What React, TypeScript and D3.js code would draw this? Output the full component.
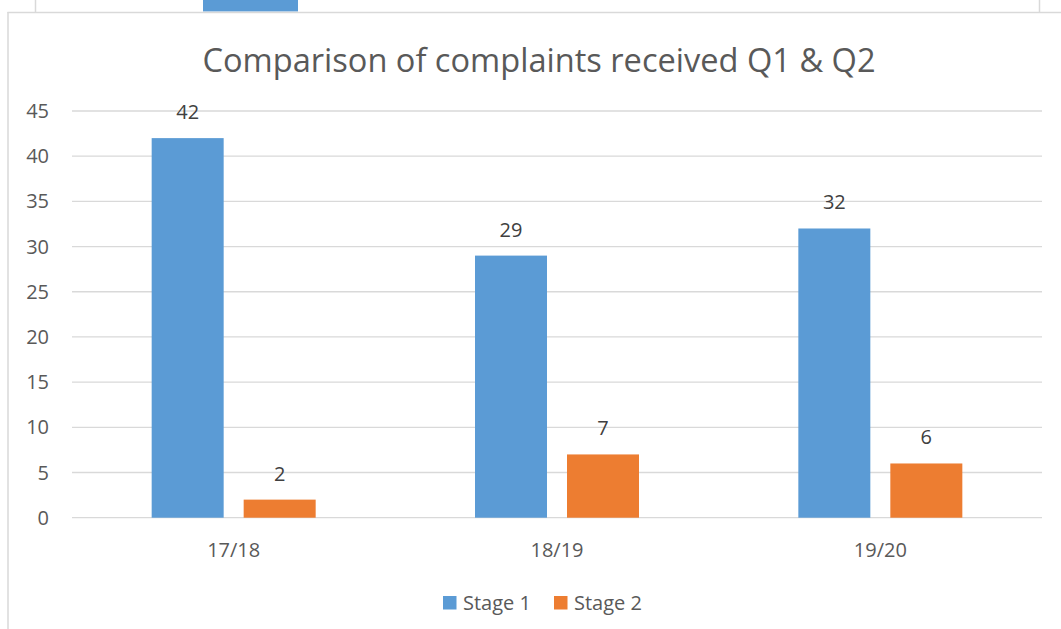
import React from "react";
import * as d3 from "d3";

const categories = ["17/18", "18/19", "19/20"];
const seriesNames = ["Stage 1", "Stage 2"];
const stage1 = [42, 29, 32];
const stage2 = [2, 7, 6];
const yTicks = [0, 5, 10, 15, 20, 25, 30, 35, 40, 45];
const title = "Comparison of complaints received Q1 & Q2";

const W = 1061;
const H = 629;
const colors = ["#5B9BD5", "#ED7D31"];
const FONT = "'Open Sans', 'Noto Sans', sans-serif";

export default function App() {
  const plotLeft = 72;
  const plotRight = 1042;
  const y = d3.scaleLinear().domain([0, 45]).range([517.7, 111]);
  const x0 = d3.scaleBand<string>().domain(categories).range([plotLeft, plotRight]).paddingInner(0).paddingOuter(0);
  const bw = 72;
  const gap = 20;
  const series = [stage1, stage2];

  return (
    <svg
      width={W}
      height={H}
      style={{ position: "absolute", left: 0, top: 0, background: "#fff" }}
      fontFamily={FONT}
    >
      {/* surrounding frame fragments */}
      <line x1={35.5} x2={35.5} y1={0} y2={12} stroke="#D9D9D9" strokeWidth={1.5} />
      <line x1={1039.5} x2={1039.5} y1={0} y2={12} stroke="#D9D9D9" strokeWidth={1.5} />
      <rect x={203} y={0} width={95} height={11.5} fill="#5B9BD5" />
      <line x1={7.5} x2={W} y1={12.5} y2={12.5} stroke="#D9D9D9" strokeWidth={1.5} />
      <line x1={8} x2={8} y1={12} y2={H} stroke="#D9D9D9" strokeWidth={1.5} />

      <text x={539} y={71.5} textAnchor="middle" fontSize={32.6} fill="#595959">
        {title}
      </text>

      {yTicks.map((t) => (
        <g key={t}>
          <line x1={plotLeft} x2={plotRight} y1={y(t)} y2={y(t)} stroke="#D9D9D9" strokeWidth={1.3} />
          <text x={49} y={y(t)} dy="0.35em" textAnchor="end" fontSize={20} fill="#595959">
            {t}
          </text>
        </g>
      ))}

      {categories.map((c, i) => {
        const cx = (x0(c) as number) + x0.bandwidth() / 2;
        return (
          <g key={c}>
            {series.map((s, j) => {
              const bx = cx - gap / 2 - bw + j * (bw + gap);
              return (
                <g key={j}>
                  <rect x={bx} y={y(s[i])} width={bw} height={y(0) - y(s[i])} fill={colors[j]} />
                  <text x={bx + bw / 2} y={y(s[i]) - 19} textAnchor="middle" fontSize={20} fill="#404040">
                    {s[i]}
                  </text>
                </g>
              );
            })}
            <text x={cx} y={550} dy="0.35em" textAnchor="middle" fontSize={20} fill="#595959">
              {c}
            </text>
          </g>
        );
      })}

      {seriesNames.map((n, j) => {
        const lx = j === 0 ? 443 : 554;
        return (
          <g key={n}>
            <rect x={lx} y={596} width={13.5} height={13.5} fill={colors[j]} />
            <text x={lx + 20} y={603} dy="0.35em" fontSize={20} fill="#595959">
              {n}
            </text>
          </g>
        );
      })}
    </svg>
  );
}
